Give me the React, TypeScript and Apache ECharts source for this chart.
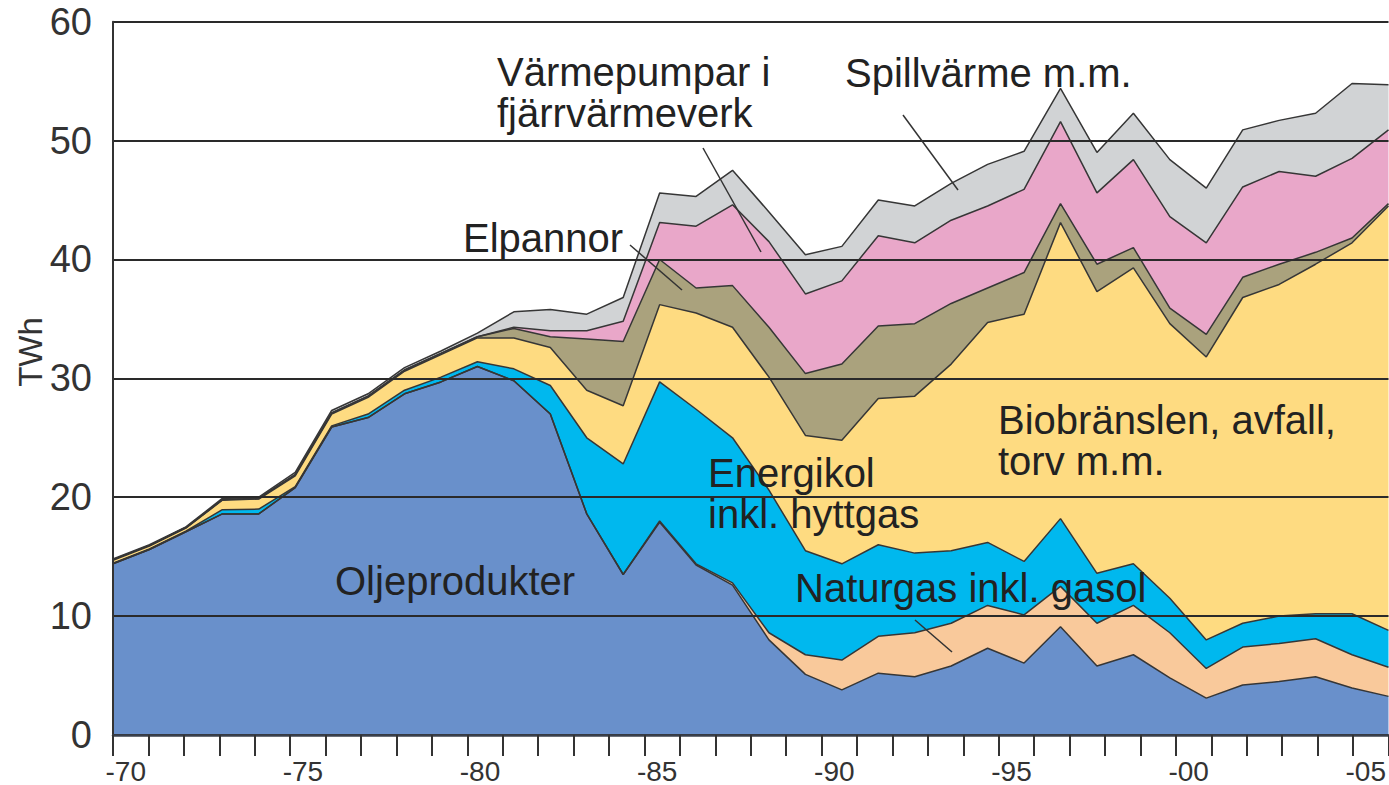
import React, { useEffect, useRef } from 'react';
import * as echarts from 'echarts';

const years = [
  1970, 1971, 1972, 1973, 1974, 1975, 1976, 1977, 1978, 1979,
  1980, 1981, 1982, 1983, 1984, 1985, 1986, 1987, 1988, 1989,
  1990, 1991, 1992, 1993, 1994, 1995, 1996, 1997, 1998, 1999,
  2000, 2001, 2002, 2003, 2004, 2005,
];
const tickLabels = ['-70', '-75', '-80', '-85', '-90', '-95', '-00', '-05'];
const yTicks = [0, 10, 20, 30, 40, 50, 60];

const oljeprodukter = [14.4, 15.6, 17.1, 18.6, 18.6, 20.8, 25.9, 26.7, 28.7, 29.7, 31.0, 29.8, 27.0, 18.6, 13.5, 17.9, 14.3, 12.6, 8.0, 5.1, 3.8, 5.2, 4.9, 5.8, 7.3, 6.05, 9.1, 5.8, 6.75, 4.8, 3.1, 4.2, 4.5, 4.9, 3.95, 3.25];
const naturgas = [0, 0, 0, 0, 0, 0, 0, 0, 0, 0, 0, 0, 0, 0, 0, 0.1, 0.1, 0.2, 0.6, 1.65, 2.5, 3.1, 3.7, 3.6, 3.6, 4.05, 3.4, 3.6, 4.15, 3.8, 2.5, 3.2, 3.2, 3.2, 2.8, 2.45];
const energikol = [0.05, 0.05, 0.05, 0.35, 0.4, 0.1, 0.1, 0.3, 0.3, 0.4, 0.4, 1.0, 2.4, 6.4, 9.3, 11.7, 13.0, 12.2, 12.0, 8.75, 8.1, 7.7, 6.7, 6.1, 5.3, 4.5, 5.7, 4.2, 3.5, 2.9, 2.4, 2.0, 2.3, 2.1, 3.45, 3.1];
const biobranslen = [0.25, 0.25, 0.25, 0.8, 0.85, 0.9, 1.0, 1.4, 1.6, 1.9, 2.0, 2.6, 3.2, 4.0, 4.9, 6.5, 8.1, 9.3, 9.5, 9.7, 10.4, 12.3, 13.2, 15.7, 18.5, 20.8, 24.9, 23.7, 24.9, 23.1, 23.8, 27.4, 27.9, 29.4, 31.2, 35.7];
const elpannor = [0.05, 0.05, 0.05, 0.05, 0.05, 0.1, 0.1, 0.1, 0.1, 0.1, 0.1, 0.8, 0.9, 4.3, 5.4, 3.8, 2.1, 3.5, 4.2, 5.2, 6.4, 6.1, 6.1, 5.1, 2.9, 3.5, 1.6, 2.3, 1.7, 1.3, 1.9, 1.7, 1.7, 1.0, 0.4, 0.2];
const varmepumpar = [0, 0, 0, 0, 0, 0, 0, 0, 0, 0, 0, 0.1, 0.5, 0.7, 1.7, 3.1, 5.2, 6.8, 7.2, 6.7, 7.0, 7.6, 6.8, 7.0, 6.9, 7.0, 6.9, 6.0, 7.4, 7.7, 7.7, 7.6, 7.8, 6.4, 6.7, 6.2];
const spillvarme = [0.05, 0.05, 0.05, 0.1, 0.1, 0.2, 0.2, 0.2, 0.2, 0.2, 0.3, 1.3, 1.8, 1.4, 2.0, 2.5, 2.5, 2.9, 2.5, 3.3, 2.9, 3.0, 3.1, 3.1, 3.5, 3.2, 2.8, 3.4, 3.9, 4.8, 4.6, 4.8, 4.3, 5.3, 6.3, 3.8];

const seriesList = [
  { name: 'Oljeprodukter', data: oljeprodukter, color: '#6990CB' },
  { name: 'Naturgas inkl. gasol', data: naturgas, color: '#F9C99B' },
  { name: 'Energikol inkl. hyttgas', data: energikol, color: '#00B8EE' },
  { name: 'Biobränslen, avfall, torv m.m.', data: biobranslen, color: '#FEDB81' },
  { name: 'Elpannor', data: elpannor, color: '#AAA27D' },
  { name: 'Värmepumpar i fjärrvärmeverk', data: varmepumpar, color: '#E9A7C9' },
  { name: 'Spillvärme m.m.', data: spillvarme, color: '#D1D3D5' },
];

const FONT = '"Liberation Sans", Arial, Helvetica, sans-serif';

const annotations = [
  { text: 'Värmepumpar i\nfjärrvärmeverk', x: 497, y: 92.5 },
  { text: 'Spillvärme m.m.', x: 845, y: 73 },
  { text: 'Elpannor', x: 463, y: 238 },
  { text: 'Energikol\ninkl. hyttgas', x: 708, y: 493 },
  { text: 'Biobränslen, avfall,\ntorv m.m.', x: 998, y: 440.5 },
  { text: 'Oljeprodukter', x: 335, y: 581 },
  { text: 'Naturgas inkl. gasol', x: 795, y: 588 },
];

const leaders = [
  [703, 148, 761, 252],
  [903, 115, 958, 190],
  [630, 245, 682, 290],
  [915, 620, 952, 652],
];

export default function App() {
  const ref = useRef<HTMLDivElement>(null);
  useEffect(() => {
    document.body.style.margin = '0';
    const chart = echarts.init(ref.current as HTMLDivElement, null, { renderer: 'svg' });
    const option: any = {
      animation: false,
      backgroundColor: '#ffffff',
      grid: { left: 113, right: 0, top: 21.7, bottom: 49.5, containLabel: false },
      xAxis: [
        { type: 'category', data: years, boundaryGap: false, show: false },
        {
          type: 'category',
          data: years,
          boundaryGap: true,
          position: 'bottom',
          z: 4,
          axisLine: { show: true, lineStyle: { color: '#3a404c', width: 2.5 } },
          axisTick: { show: true, length: 21, interval: 0, lineStyle: { color: '#333', width: 2 } },
          axisLabel: {
            interval: 4,
            formatter: (_v: any, i: number) => tickLabels[Math.round(i / 5)] || '',
            fontSize: 28,
            color: '#333',
            margin: 22,
            fontFamily: FONT,
            padding: [0, 10, 0, 0],
          },
          splitLine: { show: false },
        },
      ],
      yAxis: {
        type: 'value',
        min: yTicks[0],
        max: yTicks[yTicks.length - 1],
        interval: 10,
        z: 3,
        axisLine: { show: true, lineStyle: { color: '#333', width: 2 } },
        axisTick: { show: false },
        splitLine: { show: true, lineStyle: { color: '#2a2a2a', width: 2 } },
        axisLabel: { fontSize: 38, color: '#333', margin: 21, fontFamily: FONT, padding: [6, 0, 0, 0] },
      },
      series: seriesList.map((s) => ({
        name: s.name,
        type: 'line',
        stack: 'total',
        xAxisIndex: 0,
        symbol: 'none',
        data: s.data,
        lineStyle: { color: '#363636', width: 1.5 },
        areaStyle: { color: s.color, opacity: 1 },
        z: 2,
      })),
      graphic: [
        ...annotations.map((a) => ({
          type: 'text',
          x: a.x,
          y: a.y,
          z: 100,
          style: {
            text: a.text,
            fontSize: 40,
            lineHeight: 41,
            fontFamily: FONT,
            fill: '#222',
            textAlign: 'left',
            textVerticalAlign: 'middle',
          },
        })),
        ...leaders.map((l) => ({
          type: 'line',
          z: 100,
          shape: { x1: l[0], y1: l[1], x2: l[2], y2: l[3] },
          style: { stroke: '#333', lineWidth: 1.5 },
        })),
        {
          type: 'text',
          x: 30,
          y: 352,
          rotation: Math.PI / 2,
          z: 100,
          style: {
            text: 'TWh',
            fontSize: 33,
            fontFamily: FONT,
            fill: '#333',
            textAlign: 'center',
            textVerticalAlign: 'middle',
          },
        },
      ],
    };
    chart.setOption(option);
    return () => chart.dispose();
  }, []);
  return <div ref={ref} style={{ width: 1389, height: 785 }} />;
}
